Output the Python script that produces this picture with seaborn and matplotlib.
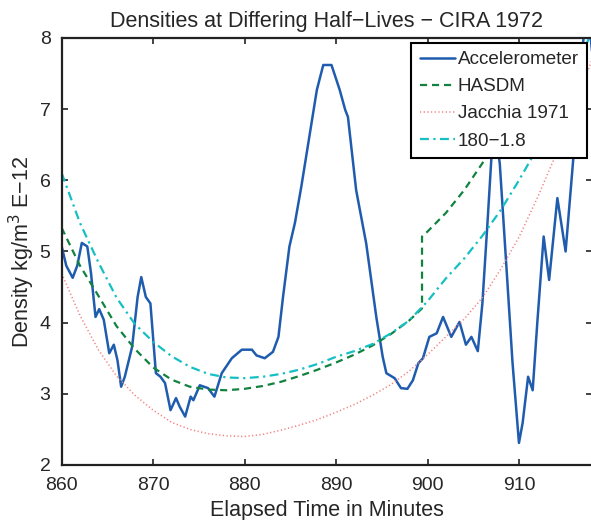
import numpy as np
import pandas as pd
import matplotlib
matplotlib.use("Agg")
import matplotlib.pyplot as plt
import seaborn as sns

# ---------------- data ----------------
acc_t = [860.0, 860.5, 861.2, 861.7, 862.2, 862.8, 863.2, 863.7, 864.1, 864.6,
         865.2, 865.7, 866.1, 866.5, 866.9, 867.7, 868.3, 868.7, 869.2, 869.7,
         870.3, 870.8, 871.3, 871.9, 872.5, 872.9, 873.5, 874.1, 874.4, 875.1,
         876.0, 876.7, 877.5, 878.6, 879.7, 880.8, 881.3, 882.2, 883.1, 883.7,
         884.2, 884.9, 885.5, 886.2, 887.2, 887.9, 888.6, 889.5, 890.4, 891.0,
         891.3, 892.2, 893.3, 894.4, 895.1, 895.5, 896.4, 897.1, 897.8, 898.4,
         899.0, 899.5, 900.2, 901.0, 901.7, 902.6, 903.5, 904.2, 904.8, 905.5,
         906.0, 906.6, 907.1, 907.5, 907.9, 908.6, 909.3, 910.0, 910.4, 911.0,
         911.5, 912.0, 912.7, 913.3, 914.2, 915.1, 915.9, 916.6, 917.3, 917.7, 918.0]
acc_d = [5.07, 4.80, 4.63, 4.80, 5.12, 5.07, 4.70, 4.08, 4.19, 4.04,
         3.57, 3.69, 3.47, 3.10, 3.24, 3.66, 4.36, 4.64, 4.36, 4.27,
         3.29, 3.24, 3.15, 2.77, 2.94, 2.82, 2.68, 2.96, 2.91, 3.12,
         3.08, 2.96, 3.29, 3.50, 3.62, 3.62, 3.54, 3.50, 3.59, 3.80,
         4.36, 5.07, 5.40, 5.91, 6.71, 7.27, 7.62, 7.62, 7.27, 6.99,
         6.89, 5.86, 5.11, 4.08, 3.52, 3.29, 3.22, 3.08, 3.07, 3.19,
         3.43, 3.50, 3.80, 3.85, 4.08, 3.80, 4.01, 3.69, 3.80, 3.60,
         4.27, 5.49, 6.56, 6.61, 6.24, 4.84, 3.43, 2.31, 2.59, 3.24,
         3.05, 3.99, 5.21, 4.60, 5.75, 5.00, 6.24, 7.41, 8.30, 8.20, 7.80]

hasdm_t = [860, 862, 864, 866, 868, 870, 872, 874, 876, 878, 880, 882, 884,
           886, 888, 890, 892, 894, 896, 898, 899.4, 899.4, 900, 902, 904,
           906, 908, 910, 912, 914]
hasdm_d = [5.33, 4.80, 4.38, 3.95, 3.63, 3.37, 3.20, 3.10, 3.06, 3.05, 3.07,
           3.11, 3.17, 3.25, 3.34, 3.44, 3.55, 3.68, 3.84, 4.03, 4.20, 5.21,
           5.28, 5.54, 5.86, 6.24, 6.70, 7.22, 7.85, 8.50]

jac_t = [860, 862, 864, 866, 868, 870, 872, 874, 876, 878, 880, 882, 884, 886,
         888, 890, 892, 894, 896, 898, 900, 902, 904, 906, 908, 910, 912, 914,
         916, 918]
jac_d = [4.69, 4.10, 3.62, 3.25, 2.98, 2.77, 2.60, 2.50, 2.44, 2.41, 2.40,
         2.43, 2.49, 2.56, 2.64, 2.74, 2.85, 2.98, 3.13, 3.32, 3.55, 3.80,
         4.05, 4.35, 4.75, 5.20, 5.75, 6.35, 7.00, 7.70]

cyan_t = [860, 862, 864, 866, 868, 870, 872, 874, 876, 878, 880, 882, 884, 886,
          888, 890, 892, 894, 896, 898, 900, 902, 904, 906, 908, 910, 912, 914,
          916, 918]
cyan_d = [6.10, 5.40, 4.85, 4.35, 3.98, 3.73, 3.53, 3.38, 3.28, 3.23, 3.22,
          3.24, 3.28, 3.34, 3.42, 3.52, 3.60, 3.70, 3.85, 4.03, 4.30, 4.62,
          4.90, 5.22, 5.58, 6.00, 6.45, 6.95, 7.50, 8.10]

labels = ["Accelerometer", "HASDM", "Jacchia 1971", "180\u22121.8"]
xticks = [860, 870, 880, 890, 900, 910]
yticks = [2, 3, 4, 5, 6, 7, 8]

# ---------------- style ----------------
sns.set_theme(style="white")
plt.rcParams["font.family"] = ["Liberation Sans", "DejaVu Sans"]
plt.rcParams["axes.unicode_minus"] = True

fig = plt.figure(figsize=(5.91, 5.20), dpi=100)
ax = fig.add_axes([0.1044, 0.1058, 0.8975, 0.8212])

series = [
    (acc_t, acc_d, labels[0], "#1f5cae", "-", 1.8),
    (hasdm_t, hasdm_d, labels[1], "#11823f", (0, (3.2, 2.2)), 1.6),
    (jac_t, jac_d, labels[2], "#f47f7f", (0, (0.8, 1.6)), 1.1),
    (cyan_t, cyan_d, labels[3], "#14c0c4", (0, (4, 2, 1, 2)), 1.6),
]
for t, d, lab, col, ls, lw in series:
    df = pd.DataFrame({"t": t, "d": d})
    sns.lineplot(data=df, x="t", y="d", ax=ax, color=col, linewidth=lw,
                 linestyle=ls, label=lab, sort=False, estimator=None)
for ln in ax.get_lines():
    ln.set_solid_joinstyle("round")

ax.set_xlim(860, 918)
ax.set_ylim(2, 8)
ax.set_xticks(xticks)
ax.set_yticks(yticks)
ax.set_xticklabels([str(v) for v in xticks])
ax.set_yticklabels([str(v) for v in yticks])
ax.tick_params(direction="in", length=4, width=1.2, color="#222222",
               labelsize=14, top=True, right=True, bottom=True, left=True)
ax.tick_params(axis="x", pad=9)
ax.tick_params(axis="y", pad=8)
for s in ax.spines.values():
    s.set_visible(True)
    s.set_linewidth(1.6)
    s.set_color("#222222")

ax.set_xlabel("Elapsed Time in Minutes", fontsize=15.5, labelpad=4)
ax.set_ylabel("Density kg/m$^3$ E\u221212", fontsize=15.5, labelpad=2)
ax.set_title("Densities at Differing Half\u2212Lives \u2212 CIRA 1972",
             fontsize=15.5, pad=8)

leg = ax.legend(loc="upper right", fontsize=13.6, frameon=True, fancybox=False,
                handlelength=1.85, handletextpad=0.15, borderpad=0.45,
                labelspacing=0.52, borderaxespad=0.25)
leg.get_frame().set_edgecolor("black")
leg.get_frame().set_linewidth(1.5)
leg.get_frame().set_alpha(1)

fig.savefig("out.png", dpi=100)
